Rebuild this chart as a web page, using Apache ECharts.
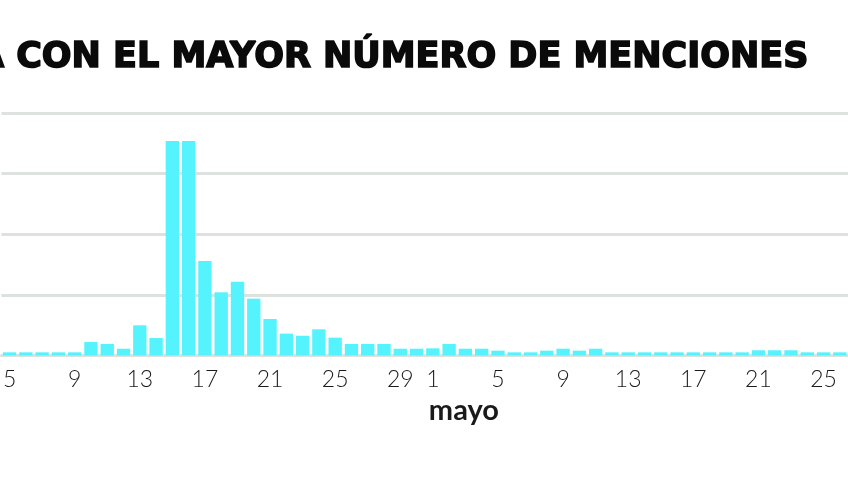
<!DOCTYPE html>
<html>
<head>
<meta charset="utf-8">
<script src="https://cdn.jsdelivr.net/npm/echarts@6/dist/echarts.min.js"></script>
<style>
html,body{margin:0;padding:0;background:#fff;}
#chart{width:848px;height:477px;}
</style>
</head>
<body>
<div id="chart"></div>
<script>
// Category labels (days), April 5 – May 26
const aprilDays = ['5','6','7','8','9','10','11','12','13','14','15','16','17','18','19','20','21','22','23','24','25','26','27','28','29','30'];
const mayDays = ['1','2','3','4','5','6','7','8','9','10','11','12','13','14','15','16','17','18','19','20','21','22','23','24','25','26'];
// Mention counts (scale: gridline every 50)
const aprilValues = [2.6,2.6,2.6,2.6,2.6,11.1,9.5,5.6,24.9,14.4,177,177,78,52.1,60.9,46.9,30.1,18,16.3,21.6,14.7,9.5,9.5,9.5,5.6,5.6];
const mayValues = [5.9,9.5,5.6,5.6,4,2.6,2.6,4,5.6,4,5.6,2.6,2.6,2.6,2.6,2.6,2.6,2.6,2.6,2.6,4.3,4.3,4.3,2.6,2.6,2.6];
const titleText = 'A CON EL MAYOR NÚMERO DE MENCIONES';
const monthLabel = 'mayo';
const yMax = 200;
const yInterval = 50;

const categories = aprilDays.map(d => 'abr-' + d).concat(mayDays.map(d => 'may-' + d));
const values = aprilValues.concat(mayValues);
const mayStart = aprilDays.length;

const chart = echarts.init(document.getElementById('chart'), null, {renderer: 'canvas'});
const option = {
  animation: false,
  backgroundColor: '#ffffff',
  title: {
    text: titleText,
    right: 33,
    top: 35,
    textStyle: {
      fontFamily: '"DejaVu Sans", sans-serif',
      fontWeight: 'bold',
      fontSize: 35,
      color: '#0a0a0a',
      textBorderColor: '#0a0a0a',
      textBorderWidth: 1.6
    }
  },
  grid: {
    left: 0,
    top: 113,
    width: 858,
    height: 242.5,
    containLabel: false
  },
  xAxis: {
    type: 'category',
    data: categories,
    boundaryGap: true,
    axisLine: {show: true, lineStyle: {color: '#dde2df', width: 3}},
    axisTick: {show: false},
    axisLabel: {
      show: true,
      margin: 13,
      fontFamily: 'Lato, "Open Sans", sans-serif',
      fontWeight: 300,
      fontSize: 23,
      color: '#1a1a1a',
      interval: function (index) {
        if (index < mayStart) return index % 4 === 0;
        return (index - mayStart) % 4 === 0;
      },
      formatter: function (val) { return val.split('-')[1]; }
    }
  },
  yAxis: {
    type: 'value',
    min: 0,
    max: yMax,
    interval: yInterval,
    axisLine: {show: false},
    axisTick: {show: false},
    axisLabel: {show: false},
    splitLine: {show: true, lineStyle: {color: '#dde2df', width: 3}}
  },
  series: [{
    type: 'bar',
    data: values,
    barCategoryGap: '18%',
    itemStyle: {color: '#55f3fd'}
  }]
};
chart.setOption(option);
const p = chart.convertToPixel({xAxisIndex: 0}, categories[mayStart]);
chart.setOption({
  graphic: [{
    type: 'text',
    left: p - 4,
    top: 396,
    style: {
      text: monthLabel,
      font: 'bold 29px Lato, "Open Sans", sans-serif',
      fill: '#1a1a1a'
    }
  }]
});
</script>
</body>
</html>
